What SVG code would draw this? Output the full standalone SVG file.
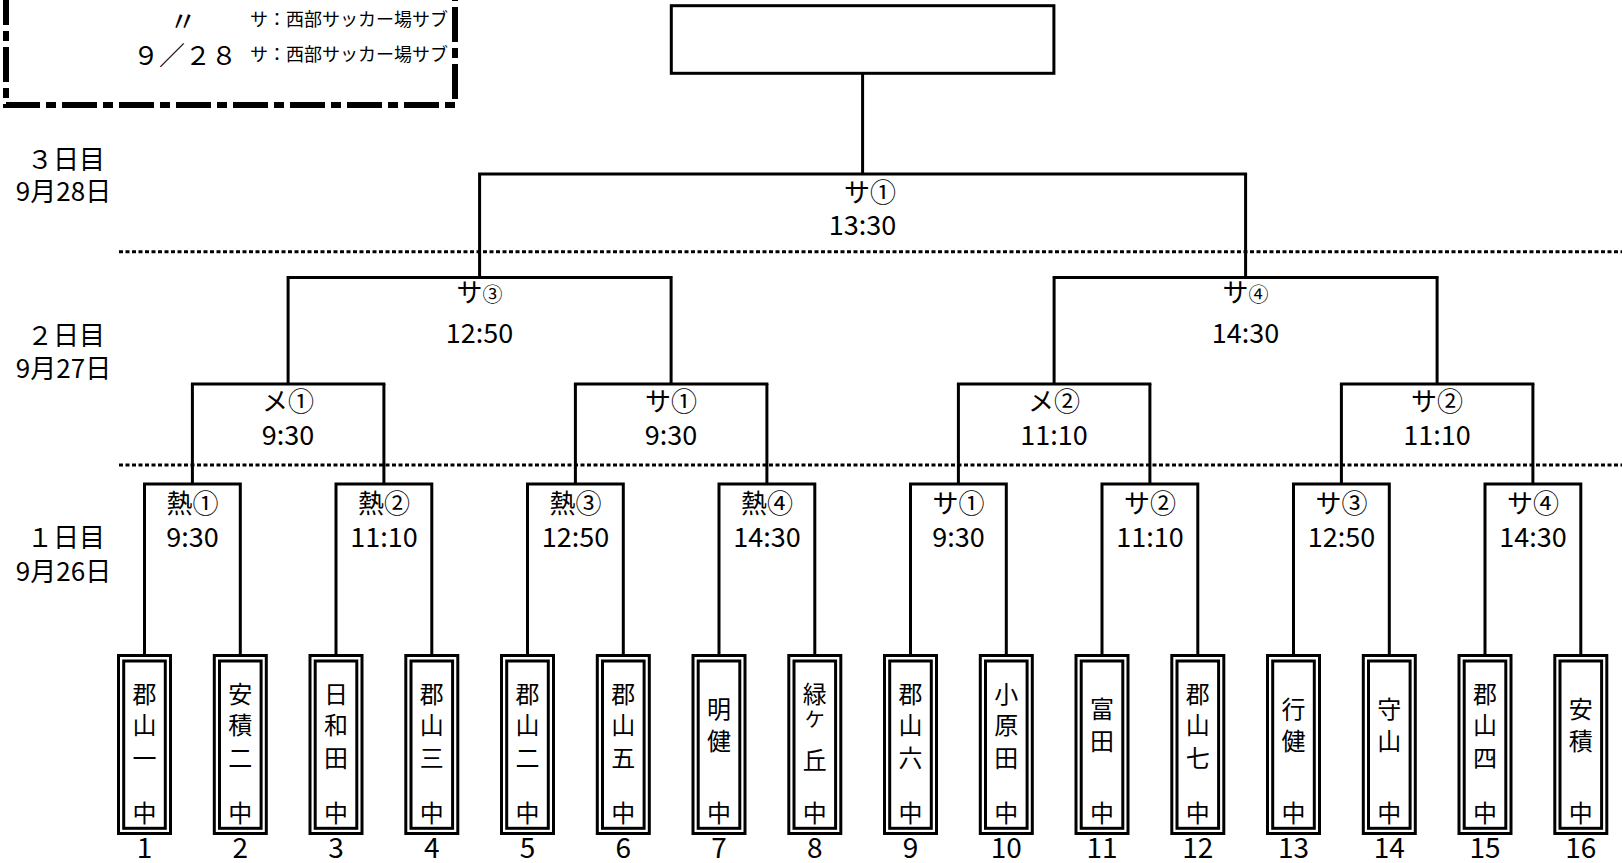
<svg xmlns="http://www.w3.org/2000/svg" width="1622" height="863" viewBox="0 0 1622 863">
<style>
.t{font-family:'Noto Sans CJK JP','Noto Sans CJK SC',sans-serif;fill:#000}
.c{text-anchor:middle}
.lbl{font-size:26px}
.tm{font-size:27px}
.nm{font-size:24px}
.num{font-size:28px}
.day{font-size:26px}
.note{font-size:18px}
.ln{stroke:#000;stroke-width:3;fill:none}
.dot{stroke:#000;stroke-width:3;stroke-dasharray:4 2.5;fill:none}
.ob{stroke:#000;stroke-width:3;fill:#fff}
.ib{stroke:#000;stroke-width:3;fill:none}
.sm{font-size:20px}
</style>
<rect width="1622" height="863" fill="#fff"/>

<g id="legend">
<path d="M6,-10 V105 H455 V-10" fill="none" stroke="#000" stroke-width="6" stroke-dasharray="35 6 10 6"/>
<text class="t c" x="183" y="32" font-size="28">〃</text>
<text class="t note" x="448" y="26" text-anchor="end">サ：西部サッカー場サブ</text>
<text class="t" x="133" y="65" font-size="26">９／２８</text>
<text class="t note" x="448" y="61" text-anchor="end">サ：西部サッカー場サブ</text>
</g>

<g id="day-labels">
<text class="t c day" x="66" y="169">３日目</text>
<text class="t c day" x="63.5" y="201">9月28日</text>
<text class="t c day" x="66" y="345">２日目</text>
<text class="t c day" x="63.5" y="378">9月27日</text>
<text class="t c day" x="66" y="547">１日目</text>
<text class="t c day" x="63.5" y="581">9月26日</text>
</g>

<g id="day-separators">
<line class="dot" x1="119" y1="251.7" x2="1622" y2="251.7"/>
<line class="dot" x1="119" y1="465" x2="1622" y2="465"/>
</g>

<g id="connectors">
<path class="ln" d="M144.5,655 V484 H240.3 V655 M192.4,484 V384"/>
<path class="ln" d="M336,655 V484 H431.8 V655 M383.9,484 V384"/>
<path class="ln" d="M527.5,655 V484 H623.3 V655 M575.4,484 V384"/>
<path class="ln" d="M719,655 V484 H814.8 V655 M766.9,484 V384"/>
<path class="ln" d="M910.5,655 V484 H1006.3 V655 M958.4,484 V384"/>
<path class="ln" d="M1102,655 V484 H1197.8 V655 M1149.9,484 V384"/>
<path class="ln" d="M1293.5,655 V484 H1389.3 V655 M1341.4,484 V384"/>
<path class="ln" d="M1485,655 V484 H1580.8 V655 M1532.9,484 V384"/>
<path class="ln" d="M192.4,385 V384 H383.9 V385 M288.1,384 V277.5"/>
<path class="ln" d="M575.4,385 V384 H766.9 V385 M671.1,384 V277.5"/>
<path class="ln" d="M958.4,385 V384 H1149.9 V385 M1054.1,384 V277.5"/>
<path class="ln" d="M1341.4,385 V384 H1532.9 V385 M1437.1,384 V277.5"/>
<path class="ln" d="M288.1,278 V277.5 H671.1 V278 M479.6,277.5 V174"/>
<path class="ln" d="M1054.1,278 V277.5 H1437.1 V278 M1245.6,277.5 V174"/>
<path class="ln" d="M479.6,175 V174 H1245.6 V175 M862.6,174 V73"/>
</g>

<g id="champion">
<rect class="ln" x="671.3" y="5.7" width="382.6" height="67.6" fill="#fff"/>
</g>

<g id="match-final">
<text class="t c lbl" x="870" y="202">サ①</text>
<text class="t c tm" x="862.6" y="235">13:30</text>
</g>
<g id="match-semi-1">
<text class="t c lbl" x="479.6" y="302">サ<tspan class="sm">③</tspan></text>
<text class="t c tm" x="479.6" y="343">12:50</text>
</g>
<g id="match-semi-2">
<text class="t c lbl" x="1245.6" y="302">サ<tspan class="sm">④</tspan></text>
<text class="t c tm" x="1245.6" y="343">14:30</text>
</g>
<g id="match-q1"><text class="t c lbl" x="288.1" y="411">メ①</text><text class="t c tm" x="288.1" y="445">9:30</text></g>
<g id="match-q2"><text class="t c lbl" x="671.1" y="411">サ①</text><text class="t c tm" x="671.1" y="445">9:30</text></g>
<g id="match-q3"><text class="t c lbl" x="1054.1" y="411">メ②</text><text class="t c tm" x="1054.1" y="445">11:10</text></g>
<g id="match-q4"><text class="t c lbl" x="1437.1" y="411">サ②</text><text class="t c tm" x="1437.1" y="445">11:10</text></g>

<g id="match-r1-1"><text class="t c lbl" x="192.4" y="513">熱①</text><text class="t c tm" x="192.4" y="547">9:30</text></g>
<g id="match-r1-2"><text class="t c lbl" x="383.9" y="513">熱②</text><text class="t c tm" x="383.9" y="547">11:10</text></g>
<g id="match-r1-3"><text class="t c lbl" x="575.4" y="513">熱③</text><text class="t c tm" x="575.4" y="547">12:50</text></g>
<g id="match-r1-4"><text class="t c lbl" x="766.9" y="513">熱④</text><text class="t c tm" x="766.9" y="547">14:30</text></g>
<g id="match-r1-5"><text class="t c lbl" x="958.4" y="513">サ①</text><text class="t c tm" x="958.4" y="547">9:30</text></g>
<g id="match-r1-6"><text class="t c lbl" x="1149.9" y="513">サ②</text><text class="t c tm" x="1149.9" y="547">11:10</text></g>
<g id="match-r1-7"><text class="t c lbl" x="1341.4" y="513">サ③</text><text class="t c tm" x="1341.4" y="547">12:50</text></g>
<g id="match-r1-8"><text class="t c lbl" x="1532.9" y="513">サ④</text><text class="t c tm" x="1532.9" y="547">14:30</text></g>

<g id="team-1"><rect class="ob" x="118.5" y="655.5" width="52" height="178"/><rect class="ib" x="123.7" y="661" width="41.6" height="167.3"/>
<text class="t c nm"><tspan x="144.5" y="703">郡</tspan><tspan x="144.5" y="734">山</tspan><tspan x="144.5" y="767">一</tspan><tspan x="144.5" y="822">中</tspan></text>
<text class="t c num" x="144.5" y="858">1</text></g>

<g id="team-2"><rect class="ob" x="214.3" y="655.5" width="52" height="178"/><rect class="ib" x="219.5" y="661" width="41.6" height="167.3"/>
<text class="t c nm"><tspan x="240.3" y="703">安</tspan><tspan x="240.3" y="734">積</tspan><tspan x="240.3" y="767">二</tspan><tspan x="240.3" y="822">中</tspan></text>
<text class="t c num" x="240.3" y="858">2</text></g>

<g id="team-3"><rect class="ob" x="310" y="655.5" width="52" height="178"/><rect class="ib" x="315.2" y="661" width="41.6" height="167.3"/>
<text class="t c nm"><tspan x="336" y="703">日</tspan><tspan x="336" y="734">和</tspan><tspan x="336" y="767">田</tspan><tspan x="336" y="822">中</tspan></text>
<text class="t c num" x="336" y="858">3</text></g>

<g id="team-4"><rect class="ob" x="405.8" y="655.5" width="52" height="178"/><rect class="ib" x="411" y="661" width="41.6" height="167.3"/>
<text class="t c nm"><tspan x="431.8" y="703">郡</tspan><tspan x="431.8" y="734">山</tspan><tspan x="431.8" y="767">三</tspan><tspan x="431.8" y="822">中</tspan></text>
<text class="t c num" x="431.8" y="858">4</text></g>

<g id="team-5"><rect class="ob" x="501.5" y="655.5" width="52" height="178"/><rect class="ib" x="506.7" y="661" width="41.6" height="167.3"/>
<text class="t c nm"><tspan x="527.5" y="703">郡</tspan><tspan x="527.5" y="734">山</tspan><tspan x="527.5" y="767">二</tspan><tspan x="527.5" y="822">中</tspan></text>
<text class="t c num" x="527.5" y="858">5</text></g>

<g id="team-6"><rect class="ob" x="597.3" y="655.5" width="52" height="178"/><rect class="ib" x="602.5" y="661" width="41.6" height="167.3"/>
<text class="t c nm"><tspan x="623.3" y="703">郡</tspan><tspan x="623.3" y="734">山</tspan><tspan x="623.3" y="767">五</tspan><tspan x="623.3" y="822">中</tspan></text>
<text class="t c num" x="623.3" y="858">6</text></g>

<g id="team-7"><rect class="ob" x="693" y="655.5" width="52" height="178"/><rect class="ib" x="698.2" y="661" width="41.6" height="167.3"/>
<text class="t c nm"><tspan x="719" y="718">明</tspan><tspan x="719" y="750">健</tspan><tspan x="719" y="822">中</tspan></text>
<text class="t c num" x="719" y="858">7</text></g>

<g id="team-8"><rect class="ob" x="788.8" y="655.5" width="52" height="178"/><rect class="ib" x="794" y="661" width="41.6" height="167.3"/>
<text class="t c nm"><tspan x="814.8" y="703">緑</tspan><tspan x="814.8" y="727" font-size="20">ケ</tspan><tspan x="814.8" y="769">丘</tspan><tspan x="814.8" y="822">中</tspan></text>
<text class="t c num" x="814.8" y="858">8</text></g>

<g id="team-9"><rect class="ob" x="884.5" y="655.5" width="52" height="178"/><rect class="ib" x="889.7" y="661" width="41.6" height="167.3"/>
<text class="t c nm"><tspan x="910.5" y="703">郡</tspan><tspan x="910.5" y="734">山</tspan><tspan x="910.5" y="767">六</tspan><tspan x="910.5" y="822">中</tspan></text>
<text class="t c num" x="910.5" y="858">9</text></g>

<g id="team-10"><rect class="ob" x="980.3" y="655.5" width="52" height="178"/><rect class="ib" x="985.5" y="661" width="41.6" height="167.3"/>
<text class="t c nm"><tspan x="1006.3" y="703">小</tspan><tspan x="1006.3" y="734">原</tspan><tspan x="1006.3" y="767">田</tspan><tspan x="1006.3" y="822">中</tspan></text>
<text class="t c num" x="1006.3" y="858">10</text></g>

<g id="team-11"><rect class="ob" x="1076" y="655.5" width="52" height="178"/><rect class="ib" x="1081.2" y="661" width="41.6" height="167.3"/>
<text class="t c nm"><tspan x="1102" y="718">富</tspan><tspan x="1102" y="750">田</tspan><tspan x="1102" y="822">中</tspan></text>
<text class="t c num" x="1102" y="858">11</text></g>

<g id="team-12"><rect class="ob" x="1171.8" y="655.5" width="52" height="178"/><rect class="ib" x="1177" y="661" width="41.6" height="167.3"/>
<text class="t c nm"><tspan x="1197.8" y="703">郡</tspan><tspan x="1197.8" y="734">山</tspan><tspan x="1197.8" y="767">七</tspan><tspan x="1197.8" y="822">中</tspan></text>
<text class="t c num" x="1197.8" y="858">12</text></g>

<g id="team-13"><rect class="ob" x="1267.5" y="655.5" width="52" height="178"/><rect class="ib" x="1272.7" y="661" width="41.6" height="167.3"/>
<text class="t c nm"><tspan x="1293.5" y="718">行</tspan><tspan x="1293.5" y="750">健</tspan><tspan x="1293.5" y="822">中</tspan></text>
<text class="t c num" x="1293.5" y="858">13</text></g>

<g id="team-14"><rect class="ob" x="1363.3" y="655.5" width="52" height="178"/><rect class="ib" x="1368.5" y="661" width="41.6" height="167.3"/>
<text class="t c nm"><tspan x="1389.3" y="718">守</tspan><tspan x="1389.3" y="750">山</tspan><tspan x="1389.3" y="822">中</tspan></text>
<text class="t c num" x="1389.3" y="858">14</text></g>

<g id="team-15"><rect class="ob" x="1459" y="655.5" width="52" height="178"/><rect class="ib" x="1464.2" y="661" width="41.6" height="167.3"/>
<text class="t c nm"><tspan x="1485" y="703">郡</tspan><tspan x="1485" y="734">山</tspan><tspan x="1485" y="767">四</tspan><tspan x="1485" y="822">中</tspan></text>
<text class="t c num" x="1485" y="858">15</text></g>

<g id="team-16"><rect class="ob" x="1554.8" y="655.5" width="52" height="178"/><rect class="ib" x="1560" y="661" width="41.6" height="167.3"/>
<text class="t c nm"><tspan x="1580.8" y="718">安</tspan><tspan x="1580.8" y="750">積</tspan><tspan x="1580.8" y="822">中</tspan></text>
<text class="t c num" x="1580.8" y="858">16</text></g>
</svg>
